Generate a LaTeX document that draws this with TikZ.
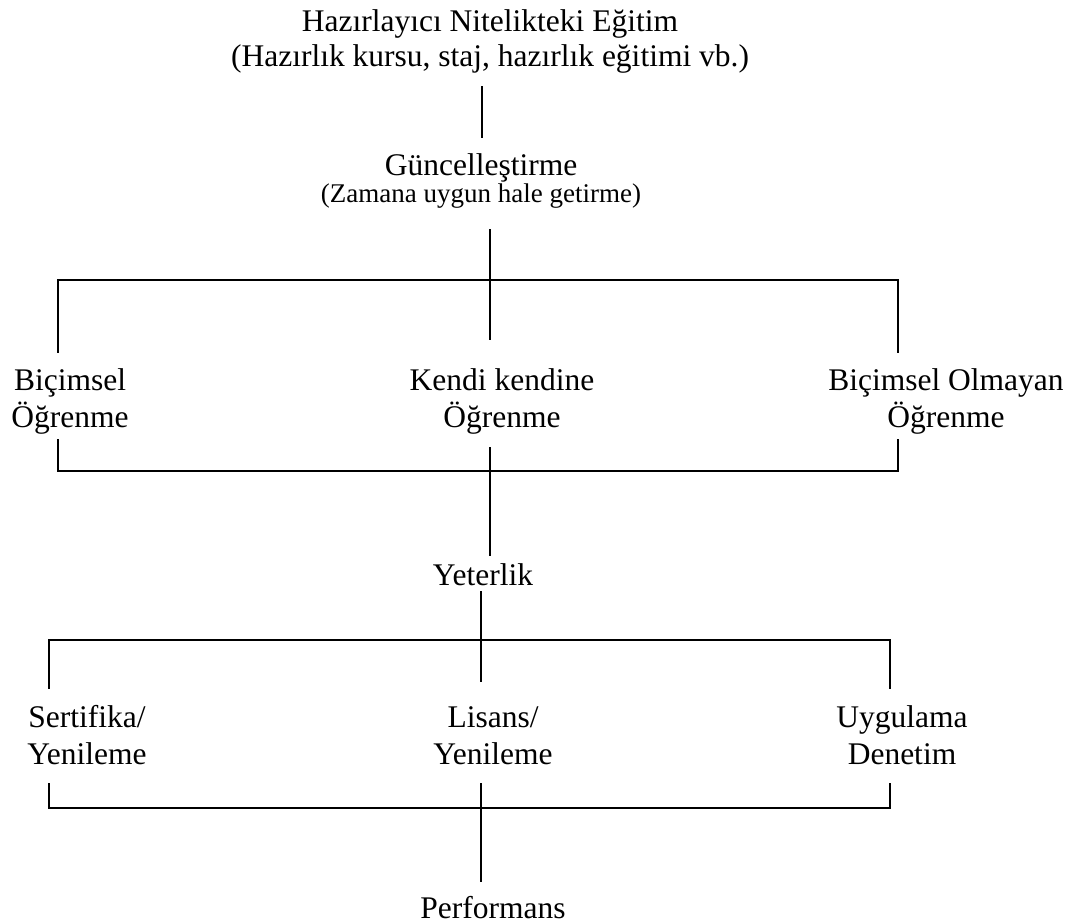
\documentclass[tikz,border=0pt]{standalone}
\usepackage{fontspec}
\setmainfont{Liberation Serif}
\begin{document}
\begin{tikzpicture}[x=1pt,y=-1pt,
  lbl/.style={align=center, inner sep=0pt, anchor=base, font=\fontsize{31.5}{37}\selectfont},
  link/.style={line width=1.5pt, line cap=rect}]
\useasboundingbox (0,0) rectangle (1075,923);

% text nodes (anchored at the baseline of their last line)
\node[lbl] (prep) at (490,67) {Hazırlayıcı Nitelikteki Eğitim\\[-2pt](Hazırlık kursu, staj, hazırlık eğitimi vb.)};
\node[lbl] (upd) at (481,202) {Güncelleştirme\\[-10pt]{\fontsize{27}{30}\selectfont(Zamana uygun hale getirme)}};
\node[lbl] (formal) at (70,427) {Biçimsel\\Öğrenme};
\node[lbl] (self) at (502,427) {Kendi kendine\\Öğrenme};
\node[lbl] (informal) at (946,427) {Biçimsel Olmayan\\Öğrenme};
\node[lbl] (comp) at (483,585) {Yeterlik};
\node[lbl] (cert) at (87,764) {Sertifika/\\Yenileme};
\node[lbl] (lic) at (493,764) {Lisans/\\Yenileme};
\node[lbl] (audit) at (902,764) {Uygulama\\Denetim};
\node[lbl] (perf) at (493,918) {Performans};

% line end points and junctions
\coordinate (a1) at (482,87);  \coordinate (a2) at (482,137);
\coordinate (b1) at (490,230); \coordinate (b2) at (490,339);
\coordinate (bl) at (58,280);  \coordinate (br) at (898,280);
\coordinate (bl2) at (58,352); \coordinate (br2) at (898,352);
\coordinate (cl) at (58,471);  \coordinate (cr) at (898,471);
\coordinate (cl2) at (58,440); \coordinate (cr2) at (898,440);
\coordinate (c1) at (490,448); \coordinate (c2) at (490,555);
\coordinate (d1) at (481,592); \coordinate (d2) at (481,681);
\coordinate (dl) at (49,640);  \coordinate (dr) at (890,640);
\coordinate (dl2) at (49,688); \coordinate (dr2) at (890,688);
\coordinate (el) at (49,808);  \coordinate (er) at (890,808);
\coordinate (el2) at (49,784); \coordinate (er2) at (890,784);
\coordinate (e1) at (481,784); \coordinate (e2) at (481,881);

% connectors
\draw[link] (a1) -- (a2);
\draw[link] (b1) -- (b2);
\draw[link] (bl2) -- (bl) -- (br) -- (br2);
\draw[link] (cl2) -- (cl) -- (cr) -- (cr2);
\draw[link] (c1) -- (c2);
\draw[link] (d1) -- (d2);
\draw[link] (dl2) -- (dl) -- (dr) -- (dr2);
\draw[link] (el2) -- (el) -- (er) -- (er2);
\draw[link] (e1) -- (e2);
\end{tikzpicture}
\end{document}
